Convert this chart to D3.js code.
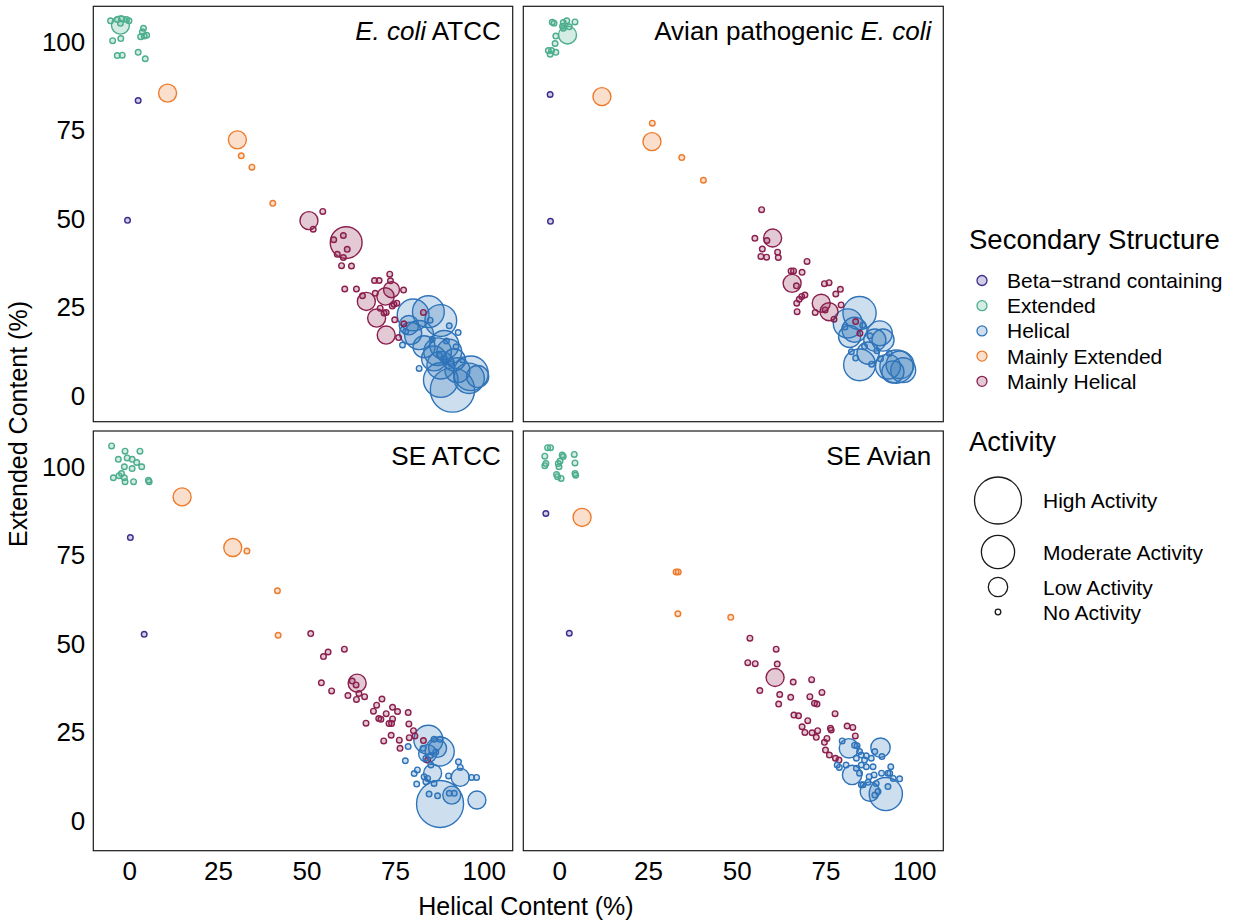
<!DOCTYPE html>
<html>
<head>
<meta charset="utf-8">
<script src="https://cdn.jsdelivr.net/npm/d3@7"></script>
<style>
  body { margin: 0; background: #fff; }
  svg { display: block; }
  text { font-family: "Liberation Sans", Arial, Helvetica, sans-serif; fill: #000; }
</style>
</head>
<body>
<svg id="chart" width="1234" height="922"></svg>
<script>
// Secondary-structure classes
const structureKeys   = ["B", "E", "H", "ME", "MH"];
const structureNames  = ["Beta\u2212strand containing", "Extended", "Helical", "Mainly Extended", "Mainly Helical"];
const structureColors = ["#3e2c8e", "#4cae8d", "#2f74ba", "#ee7b2c", "#8b1f4d"];

// Activity levels shown in the size legend
const activityLevels = [3, 2, 1, 0];
const activityNames  = ["High Activity", "Moderate Activity", "Low Activity", "No Activity"];

const xTicks = [0, 25, 50, 75, 100];
const yTicks = [0, 25, 50, 75, 100];

// Peptides: [structure, helical %, extended %, activity score]
const ecoliAtcc = [
  ["E",-5.3,105.9,0],["E",-3.4,106.3,0],["E",-2.2,106.5,0],["E",-0.8,106.3,0],["E",-0.1,105.9,0],
  ["E",-2.5,104.7,0.9],["E",-2.5,105.2,0],["E",-4.7,100.3,0],["E",-2.4,100.9,0],["E",4.0,103.8,0],
  ["E",3.7,102.8,0],["E",3.2,101.4,0],["E",4.2,101.6,0],["E",4.9,101.8,0],["E",-3.4,96.1,0],
  ["E",-2.0,96.2,0],["E",2.5,97.0,0],["E",4.5,95.2,0],
  ["B",2.5,83.4,0],["B",-0.5,49.6,0],
  ["ME",10.8,85.5,0.9],["ME",30.5,72.3,0.9],["ME",31.6,67.8,0],["ME",34.6,64.6,0],["ME",40.5,54.4,0],
  ["MH",50.7,49.5,0.9],["MH",51.9,47.1,0],["MH",54.6,52.1,0],["MH",61.2,43.3,1.9],["MH",57.7,44.1,0],
  ["MH",60.4,45.3,0],["MH",61.5,41.4,0],["MH",58.7,40.0,0],["MH",60.4,39.1,0],["MH",59.9,36.8,0],
  ["MH",62.7,36.7,0],["MH",73.5,34.4,0],["MH",69.2,32.6,0],["MH",70.5,32.6,0],["MH",73.7,32.5,0],
  ["MH",60.8,30.2,0],["MH",64.1,30.2,0],["MH",74.0,30.0,0.75],["MH",77.4,29.9,0],["MH",69.4,29.0,0],
  ["MH",65.8,28.3,0],["MH",72.3,28.1,0.85],["MH",66.9,26.7,0.9],["MH",74.7,25.9,0],["MH",75.5,26.2,0],
  ["MH",74.2,25.4,0],["MH",70.8,24.8,0],["MH",71.9,23.4,0],["MH",72.5,23.6,0],["MH",69.8,22.0,0.9],
  ["MH",74.9,21.5,0],["MH",77.5,20.4,0],["MH",83.0,23.6,0],["MH",72.5,17.2,0.9],["MH",76.0,16.5,0],
  ["H",80.1,22.9,1.9],["H",84.4,23.8,1.9],["H",87.9,21.3,1.9],["H",79.4,17.7,1.2],["H",81.8,17.2,1.7],
  ["H",88.9,14.4,1.7],["H",87.0,12.5,1.6],["H",90.3,12.5,1.4],["H",86.0,10.6,1.4],["H",87.9,8.7,1.6],
  ["H",91.2,1.7,2.8],["H",87.9,4.5,2.1],["H",96.4,6.4,2.1],["H",95.9,5.0,1.8],["H",92.6,7.3,1.4],
  ["H",98.3,5.5,1.2],["H",78.9,20.0,1.0],["H",83.2,13.9,1.2],["H",91.7,10.2,1.2],
  ["H",90.3,19.8,0],["H",92.8,17.9,0],["H",92.2,13.9,0],["H",81.8,7.8,0],["H",77.1,14.4,0],
  ["H",84.9,21.4,0],["H",78.0,18.2,0],["H",87.5,11.5,0],["H",88.9,10.5,0],["H",90.8,9.1,0],
  ["H",94.1,10.2,0],["H",85.5,16.0,0],["H",89.5,15.5,0]
];

const avianEcoli = [
  ["E",-2.0,105.5,0],["E",-1.5,105.2,0],["E",1.1,105.4,0],["E",2.1,105.9,0],["E",4.4,105.6,0],
  ["E",0.9,104.4,0],["E",2.8,104.2,0],["E",2.3,101.9,0.9],["E",-1.0,101.6,0],["E",-1.2,99.5,0],
  ["E",-3.1,97.5,0],["E",-2.2,97.5,0],["E",-1.0,97.0,0],["E",-2.6,96.5,0],["E",1.1,103.8,0],
  ["B",-2.6,85.1,0],["B",-2.5,49.3,0],
  ["ME",12.0,84.5,0.9],["ME",26.2,77.0,0],["ME",26.1,71.8,0.9],["ME",34.5,67.3,0],["ME",40.6,60.9,0],
  ["MH",57.0,52.6,0],["MH",55.1,44.5,0],["MH",58.5,43.9,0],["MH",60.1,44.6,0.9],["MH",57.2,41.5,0],
  ["MH",61.5,40.6,0],["MH",56.8,39.4,0],["MH",58.4,39.2,0],["MH",61.7,39.1,0],["MH",69.8,38.0,0],
  ["MH",65.3,35.3,0],["MH",66.0,35.3,0],["MH",68.4,34.9,0],["MH",65.6,31.8,0.9],["MH",66.8,31.1,0],
  ["MH",74.7,31.7,0],["MH",76.0,32.0,0],["MH",79.2,30.1,0],["MH",77.9,28.8,0],["MH",69.2,28.5,0],
  ["MH",68.3,28.1,0],["MH",67.6,27.3,0],["MH",66.9,26.2,0],["MH",73.8,26.2,0.9],["MH",76.0,23.8,0.9],
  ["MH",67.0,23.8,0],["MH",72.1,23.6,0],["MH",74.9,24.3,0],["MH",79.4,25.7,0],["MH",77.4,21.7,0],
  ["MH",83.5,21.0,0],["MH",84.7,17.7,0],
  ["H",84.6,23.4,2.0],["H",81.3,20.5,1.7],["H",83.2,18.7,1.4],["H",81.8,16.8,1.2],["H",90.3,17.7,1.4],
  ["H",88.9,15.8,1.2],["H",91.2,15.8,1.2],["H",87.0,12.1,1.2],["H",84.6,8.8,1.9],["H",92.6,8.3,1.4],
  ["H",95.0,8.3,2.0],["H",96.0,8.8,1.6],["H",96.9,7.3,1.4],["H",94.0,6.8,1.2],
  ["H",82.3,12.5,0],["H",83.5,10.7,0],["H",89.5,12.8,0],["H",86.0,14.0,0],["H",90.5,10.5,0],
  ["H",87.5,17.0,0],["H",93.0,12.0,0],["H",80.5,19.5,0],["H",85.5,20.0,0],["H",88.0,9.0,0]
];

const seAtcc = [
  ["E",-5.0,105.9,0],["E",-1.2,104.4,0],["E",3.0,104.4,0],["E",-3.1,102.1,0],["E",-0.6,102.5,0],
  ["E",0.8,102.1,0],["E",2.1,101.2,0],["E",-1.4,100.0,0],["E",0.8,99.5,0],["E",3.5,100.0,0],
  ["E",-4.5,96.9,0],["E",-2.9,97.5,0],["E",-2.2,98.1,0],["E",-1.4,96.9,0],["E",-1.2,95.8,0],
  ["E",1.2,95.8,0],["E",5.4,96.2,0],["E",5.6,95.8,0],
  ["B",0.3,80.0,0],["B",4.2,52.7,0],
  ["ME",14.9,91.5,0.9],["ME",29.2,77.2,0.9],["ME",33.2,76.2,0],["ME",41.8,65.0,0],["ME",42.0,52.4,0],
  ["MH",51.2,52.9,0],["MH",56.1,47.7,0],["MH",54.8,46.4,0],["MH",60.7,48.5,0],["MH",64.3,38.9,0.9],
  ["MH",62.9,39.5,0],["MH",64.0,38.4,0],["MH",54.2,39.0,0],["MH",57.1,36.7,0],["MH",61.7,35.4,0],
  ["MH",64.1,34.3,0],["MH",66.4,35.1,0],["MH",64.8,36.0,0],["MH",71.3,34.4,0],["MH",69.8,32.7,0],
  ["MH",68.9,31.0,0],["MH",74.3,32.1,0],["MH",75.7,30.9,0],["MH",78.7,30.6,0],["MH",72.5,30.3,0],
  ["MH",70.4,28.9,0],["MH",71.0,28.7,0],["MH",74.3,28.8,0],["MH",66.8,27.6,0],["MH",73.3,27.5,0],
  ["MH",74.0,27.5,0],["MH",78.9,27.4,0],["MH",80.2,25.5,0],["MH",80.6,24.0,0],["MH",73.9,24.2,0],
  ["MH",79.0,23.5,0],["MH",71.8,22.6,0],["MH",76.2,22.8,0],["MH",83.0,22.7,0],["MH",76.4,20.5,0],
  ["MH",84.2,17.2,0],
  ["H",84.4,22.9,1.7],["H",87.6,19.6,1.7],["H",87.0,20.5,0.9],["H",84.2,19.0,0.9],["H",85.6,13.5,0.9],
  ["H",93.4,12.3,0.9],["H",91.0,7.3,0.9],["H",98.1,5.9,0.9],["H",87.7,4.8,3.0],
  ["H",78.7,21.0,0],["H",77.9,17.0,0],["H",80.4,13.4,0],["H",81.3,14.4,0],["H",83.2,12.5,0],
  ["H",83.7,11.1,0],["H",81.1,10.4,0],["H",84.6,7.6,0],["H",87.0,7.1,0],["H",90.1,12.7,0],
  ["H",92.9,16.7,0],["H",93.4,15.1,0],["H",96.6,12.3,0],["H",98.0,12.3,0],["H",90.3,7.8,0],
  ["H",91.7,7.8,0],["H",86.0,23.1,0],["H",87.7,23.1,0],["H",82.9,20.5,0],["H",83.7,17.7,0],
  ["H",85.1,15.8,0],["H",84.2,12.0,0],["H",86.0,10.6,0],["H",85.0,18.5,0],["H",86.5,19.5,0]
];

const seAvian = [
  ["E",-3.3,105.4,0],["E",-2.5,105.4,0],["E",-4.1,103.0,0],["E",-3.8,100.9,0],["E",-4.1,100.3,0],
  ["E",0.8,103.3,0],["E",1.1,102.9,0],["E",4.2,103.5,0],["E",4.4,101.1,0],["E",-0.3,100.9,0],
  ["E",0.2,101.6,0],["E",-0.1,100.0,0],["E",-0.8,97.8,0],["E",-0.5,97.2,0],["E",0.5,96.7,0],
  ["E",4.4,98.1,0],["E",4.6,97.6,0],
  ["B",-3.8,86.8,0],["B",2.8,53.0,0],
  ["ME",6.4,85.7,0.9],["ME",32.9,70.3,0],["ME",33.5,70.3,0],["ME",33.4,58.5,0],["ME",48.3,57.5,0],
  ["MH",53.7,51.6,0],["MH",61.1,48.5,0],["MH",53.1,44.7,0],["MH",55.2,44.4,0],["MH",61.4,44.3,0],
  ["MH",60.8,40.5,0.9],["MH",56.5,36.8,0],["MH",62.1,35.7,0],["MH",61.8,33.0,0],["MH",65.9,39.2,0],
  ["MH",71.1,39.9,0],["MH",74.0,36.3,0],["MH",65.2,34.9,0],["MH",70.6,35.1,0],["MH",71.9,33.2,0],
  ["MH",72.6,33.0,0],["MH",66.1,29.9,0],["MH",67.4,29.7,0],["MH",77.7,30.3,0],["MH",70.0,28.3,0],
  ["MH",68.4,26.6,0],["MH",69.2,25.0,0],["MH",71.2,24.9,0],["MH",72.8,25.5,0],["MH",72.4,23.6,0],
  ["MH",76.4,26.2,0],["MH",76.6,25.7,0],["MH",81.1,26.8,0],["MH",82.7,26.4,0],["MH",83.4,24.0,0],
  ["MH",75.4,23.3,0],["MH",74.7,22.2,0],["MH",75.0,20.0,0],["MH",76.1,18.6,0],["MH",77.8,17.7,0],
  ["MH",78.8,17.2,0],
  ["H",81.6,20.5,1.0],["H",90.5,20.7,1.0],["H",82.5,13.0,1.0],["H",87.5,8.3,1.0],["H",92.0,7.6,2.0],
  ["H",79.7,22.6,0],["H",83.2,21.4,0],["H",83.9,21.2,0],["H",84.6,19.6,0],["H",85.1,18.6,0],
  ["H",83.7,17.7,0],["H",86.5,18.4,0],["H",87.9,17.7,0],["H",88.9,19.6,0],["H",90.9,18.2,0],
  ["H",78.3,15.8,0],["H",78.9,15.1,0],["H",80.8,15.8,0],["H",83.7,14.9,0],["H",85.1,15.8,0],
  ["H",86.5,15.3,0],["H",88.4,15.3,0],["H",86.0,17.2,0],["H",84.6,13.5,0],["H",87.3,12.5,0],
  ["H",88.7,13.0,0],["H",90.8,13.5,0],["H",92.6,13.5,0],["H",93.4,15.3,0],["H",93.1,13.5,0],
  ["H",95.9,11.9,0],["H",85.1,10.2,0],["H",85.6,10.2,0],["H",87.0,10.9,0],["H",89.3,10.6,0],
  ["H",89.8,8.3,0],["H",88.9,7.3,0],["H",92.6,9.7,0],["H",94.1,12.0,0]
];

// Facet titles: [text, italic?] runs
const titleEcoliAtcc = [["E. coli", true], [" ATCC", false]];
const titleAvianEcoli = [["Avian pathogenic ", false], ["E. coli", true]];
const titleSeAtcc = [["SE ATCC", false]];
const titleSeAvian = [["SE Avian", false]];

// ---------------------------------------------------------------
const svg = d3.select("#chart");
const color = d3.scaleOrdinal().domain(structureKeys).range(structureColors);
const radius = d3.scaleLinear().domain([0, 3]).range([2.8, 23.5]);

const xDomain = [-10.16, 108.2];
const colX = [[93.3, 512.7], [523.3, 943.3]];
const rowY = [[6.3, 421.7, [-7.25, 110.0]], [431, 850.7, [-8.4, 110.1]]];

const facets = [
  { data: ecoliAtcc, title: titleEcoliAtcc, col: 0, row: 0 },
  { data: avianEcoli, title: titleAvianEcoli, col: 1, row: 0 },
  { data: seAtcc, title: titleSeAtcc, col: 0, row: 1 },
  { data: seAvian, title: titleSeAvian, col: 1, row: 1 }
];

facets.forEach((f, i) => {
  const [left, right] = colX[f.col];
  const [top, bottom, yDomain] = rowY[f.row];
  const x = d3.scaleLinear().domain(xDomain).range([left, right]);
  const y = d3.scaleLinear().domain(yDomain).range([bottom, top]);

  const clipId = "clip" + i;
  svg.append("clipPath").attr("id", clipId)
    .append("rect").attr("x", left).attr("y", top)
    .attr("width", right - left).attr("height", bottom - top);

  const g = svg.append("g");

  // larger bubbles underneath so the small ones stay visible
  const pts = f.data.slice().sort((a, b) => b[3] - a[3]);
  g.append("g").attr("clip-path", `url(#${clipId})`)
    .selectAll("circle").data(pts).join("circle")
    .attr("cx", d => x(d[1]))
    .attr("cy", d => y(d[2]))
    .attr("r", d => radius(d[3]))
    .attr("fill", d => color(d[0]))
    .attr("fill-opacity", 0.24)
    .attr("stroke", d => color(d[0]))
    .attr("stroke-width", 1.4);

  g.append("rect")
    .attr("x", left).attr("y", top)
    .attr("width", right - left).attr("height", bottom - top)
    .attr("fill", "none").attr("stroke", "#1a1a1a").attr("stroke-width", 1.2);

  const t = g.append("text")
    .attr("x", right - 12).attr("y", top + 34)
    .attr("text-anchor", "end")
    .style("font-size", "26px");
  f.title.forEach(([s, it]) => {
    t.append("tspan").text(s).style("font-style", it ? "italic" : "normal");
  });

  if (f.col === 0) {
    const ax = g.append("g").attr("transform", `translate(${left},0)`)
      .call(d3.axisLeft(y).tickValues(yTicks).tickSize(0).tickPadding(8));
    ax.select(".domain").remove();
    ax.selectAll("text").style("font-size", "26px")
      .style("font-family", "'Liberation Sans', Arial, sans-serif").attr("fill", "#000");
  }
  if (f.row === 1) {
    const ax = g.append("g").attr("transform", `translate(0,${bottom})`)
      .call(d3.axisBottom(x).tickValues(xTicks).tickSize(0).tickPadding(11));
    ax.select(".domain").remove();
    ax.selectAll("text").style("font-size", "26px")
      .style("font-family", "'Liberation Sans', Arial, sans-serif").attr("fill", "#000");
  }
});

// Axis titles
svg.append("text")
  .attr("x", 526).attr("y", 915)
  .attr("text-anchor", "middle")
  .style("font-size", "25px")
  .text("Helical Content (%)");

svg.append("text")
  .attr("transform", "translate(27,424) rotate(-90)")
  .attr("text-anchor", "middle")
  .style("font-size", "25px")
  .text("Extended Content (%)");

// Legend: secondary structure
const leg = svg.append("g");
leg.append("text").attr("x", 969).attr("y", 249)
  .style("font-size", "27.5px").text("Secondary Structure");
structureKeys.forEach((k, i) => {
  const cy = 280.5 + i * 25.2;
  leg.append("circle").attr("cx", 982).attr("cy", cy).attr("r", 5)
    .attr("fill", color(k)).attr("fill-opacity", 0.24)
    .attr("stroke", color(k)).attr("stroke-width", 1.3);
  leg.append("text").attr("x", 1007).attr("y", cy)
    .attr("dominant-baseline", "central")
    .style("font-size", "21px").text(structureNames[i]);
});

// Legend: activity (size)
leg.append("text").attr("x", 969).attr("y", 450.5)
  .style("font-size", "27.5px").text("Activity");
const actRows = [500.5, 552, 587, 612];
activityLevels.forEach((v, i) => {
  leg.append("circle").attr("cx", 998).attr("cy", actRows[i]).attr("r", radius(v))
    .attr("fill", "none").attr("stroke", "#1a1a1a").attr("stroke-width", 1.3);
  leg.append("text").attr("x", 1043).attr("y", actRows[i])
    .attr("dominant-baseline", "central")
    .style("font-size", "21px").text(activityNames[i]);
});
</script>
</body>
</html>
